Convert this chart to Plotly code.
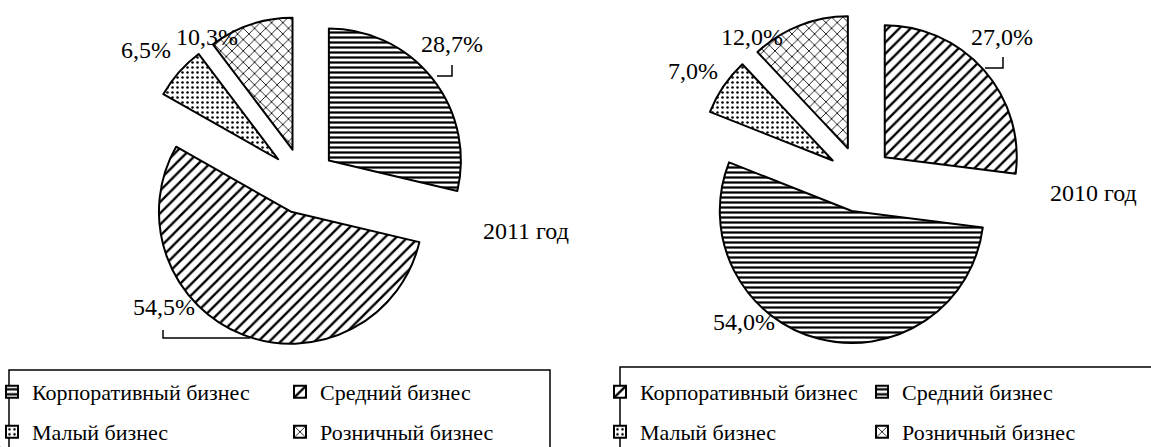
import plotly.graph_objects as go

W, H = 1151, 447

# ---------------- data ----------------
labels = ["Корпоративный бизнес", "Средний бизнес", "Малый бизнес", "Розничный бизнес"]
values_2011 = [28.7, 54.5, 6.5, 10.3]
values_2010 = [27.0, 54.0, 7.0, 12.0]
year_titles = ["2011 год", "2010 год"]
patterns_2011 = ["-", "/", ".", "x"]
patterns_2010 = ["/", "-", ".", "x"]

FONT = "Liberation Serif"
FS = 24
LFS = 22


def fx(x):
    return x / W


def fy(y):
    return 1 - y / H


pattern_size = {"-": 5, "/": 8, ".": 5, "x": 8}
pattern_solid = {"-": 0.45, "/": 0.3, ".": 0.2, "x": 0.2}


def marker_for(shapes):
    return dict(
        colors=["white"] * len(shapes),
        line=dict(color="black", width=2),
        pattern=dict(
            shape=shapes,
            fgcolor="black",
            bgcolor="white",
            fillmode="replace",
            size=[pattern_size[s] for s in shapes],
            solidity=[pattern_solid[s] for s in shapes],
        ),
    )


def pct_text(vals):
    tot = sum(vals)
    return [f"{v / tot * 100:.1f}%".replace(".", ",") for v in vals]


fig = go.Figure()

pies = [
    dict(values=values_2011, shapes=patterns_2011, dom=((138, 468), (16, 346))),
    dict(values=values_2010, shapes=patterns_2010, dom=((695, 1025), (14, 344))),
]

for p in pies:
    (x0, x1), (y0, y1) = p["dom"]
    fig.add_trace(
        go.Pie(
            labels=labels,
            values=p["values"],
            sort=False,
            direction="clockwise",
            rotation=0,
            pull=[0.25] * len(labels),
            textinfo="none",
            hoverinfo="label+percent",
            showlegend=False,
            marker=marker_for(p["shapes"]),
            domain=dict(x=[fx(x0), fx(x1)], y=[fy(y1), fy(y0)]),
        )
    )

# legend entries (one small legend per entry, 2x2 grid under each pie)
legend_cols = [[-8, 280], [600, 862]]
legend_rows = [392, 432]
legend_layouts = {}
n = 0
for k, p in enumerate(pies):
    for i, lab in enumerate(labels):
        n += 1
        name = "legend" if n == 1 else f"legend{n}"
        fig.add_trace(
            go.Pie(
                labels=[lab],
                values=[p["values"][i]],
                textinfo="none",
                hoverinfo="skip",
                showlegend=True,
                legend=name,
                legendgroup=f"g{n}",
                marker=marker_for([p["shapes"][i]]),
                domain=dict(x=[0, 0.0001], y=[0, 0.0001]),
            )
        )
        col = i % 2
        row = i // 2
        legend_layouts[name] = dict(
            x=fx(legend_cols[k][col]),
            y=fy(legend_rows[row]),
            xanchor="left",
            yanchor="middle",
            bgcolor="rgba(0,0,0,0)",
            borderwidth=0,
            font=dict(family=FONT, size=LFS, color="black"),
        )

# percentage labels
label_pos = [
    [(452, 44), (164, 307), (146, 50), (207, 37)],
    [(1002, 37), (744, 322), (693, 71), (752, 37)],
]
annotations = []
for k, p in enumerate(pies):
    for t, (ax, ay) in zip(pct_text(p["values"]), label_pos[k]):
        annotations.append(
            dict(x=fx(ax), y=fy(ay), xref="paper", yref="paper", text=t, showarrow=False,
                 xanchor="center", yanchor="middle", font=dict(family=FONT, size=FS, color="black"))
        )

title_pos = [(526, 231), (1093, 193)]
for t, (ax, ay) in zip(year_titles, title_pos):
    annotations.append(
        dict(x=fx(ax), y=fy(ay), xref="paper", yref="paper", text=t, showarrow=False,
             xanchor="center", yanchor="middle", font=dict(family=FONT, size=FS, color="black"))
    )


def path(points):
    return "M " + " L ".join(f"{fx(x)},{fy(y)}" for x, y in points)


leaders = [
    [(437, 76), (452, 76), (452, 65)],
    [(163, 330), (163, 338), (250, 338)],
    [(985, 68), (1003, 68), (1003, 57)],
]
shapes = []
for pts in leaders:
    shapes.append(dict(type="path", xref="paper", yref="paper", path=path(pts),
                       line=dict(color="black", width=1.5)))

# legend frames
for (bx0, by0, bx1, by1) in [(9, 370, 550, 470), (620, 367, 1170, 470)]:
    shapes.append(dict(type="rect", xref="paper", yref="paper",
                       x0=fx(bx0), x1=fx(bx1), y0=fy(by1), y1=fy(by0),
                       line=dict(color="black", width=1.5), fillcolor="rgba(0,0,0,0)"))

fig.update_layout(
    width=W,
    height=H,
    margin=dict(l=0, r=0, t=0, b=0, autoexpand=False),
    paper_bgcolor="white",
    plot_bgcolor="white",
    font=dict(family=FONT, size=FS, color="black"),
    annotations=annotations,
    shapes=shapes,
    **legend_layouts,
)

fig.write_html(
    "out.html",
    config={"displayModeBar": False},
    post_script="document.body.style.margin='0';document.body.style.padding='0';document.body.style.overflow='hidden';",
)
